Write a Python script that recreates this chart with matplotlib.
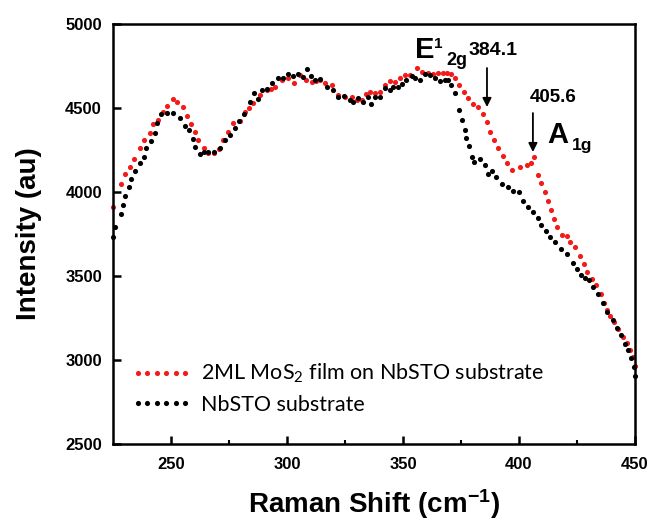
import matplotlib
matplotlib.use("Agg")
import matplotlib.pyplot as plt

# ---- data ----
red_x = [225.2, 228.3, 230.3, 232.2, 234.1, 236.5, 238.3, 240.8, 242.2, 244.4,
         246.4, 248.4, 250.8, 252.7, 255.2, 256.9, 258.5, 260.5, 261.6, 264.1,
         265.9, 268.6, 270.7, 272.5, 274.6, 276.8, 279.8, 281.9, 283.7, 285.5,
         288.3, 291.3, 293.1, 294.8, 297.7, 300.5, 303.1, 305.6, 308.2, 310.6,
         312.4, 314.2, 316.4, 319.3, 322.1, 325.0, 327.9, 330.0, 332.4, 334.2,
         335.9, 337.9, 340.1, 342.2, 344.4, 346.5, 348.6, 350.8, 353.0, 355.9,
         358.0, 360.9, 363.0, 365.2, 367.1, 369.1, 370.8, 372.3, 374.2, 376.2,
         378.0, 380.3, 382.4, 384.6, 386.3, 387.7, 389.4, 391.1, 392.9, 394.9,
         397.2, 400.4, 403.3, 405.1, 406.4, 408.3, 409.7, 411.1, 412.6, 413.6,
         415.1, 416.5, 418.4, 420.5, 422.0, 424.1, 426.3, 428.0, 429.4, 431.3,
         433.2, 435.2, 436.6, 437.9, 439.2, 441.0, 442.8, 444.7, 446.4, 447.8,
         449.2, 450.0]
red_y = [3910, 4048, 4107, 4151, 4195, 4260, 4310, 4353, 4403, 4429,
         4475, 4512, 4552, 4536, 4504, 4452, 4403, 4359, 4310, 4260,
         4234, 4234, 4255, 4310, 4360, 4413, 4425, 4478, 4500, 4528,
         4577, 4607, 4615, 4627, 4667, 4677, 4647, 4696, 4667, 4657,
         4660, 4667, 4647, 4637, 4577, 4567, 4567, 4548, 4550, 4582,
         4597, 4591, 4597, 4637, 4663, 4657, 4677, 4696, 4696, 4736,
         4716, 4710, 4702, 4710, 4706, 4706, 4700, 4677, 4637, 4597,
         4558, 4524, 4504, 4464, 4419, 4359, 4310, 4260, 4214, 4171,
         4131, 4151, 4161, 4171, 4207, 4101, 4052, 4002, 3948, 3893,
         3838, 3790, 3744, 3738, 3704, 3671, 3619, 3570, 3526, 3480,
         3447, 3393, 3341, 3300, 3262, 3228, 3183, 3139, 3099, 3060,
         3020, 2965]

blk_x = [225.2, 226.0, 228.3, 229.3, 230.3, 231.7, 232.9, 234.6, 236.5, 238.3,
         239.3, 241.2, 242.9, 244.1, 245.8, 248.4, 250.8, 253.7, 255.9, 257.8,
         259.5, 260.5, 262.3, 264.1, 265.9, 268.6, 271.0, 273.3, 275.4, 277.5,
         279.5, 281.5, 284.0, 285.8, 287.3, 289.1, 291.3, 293.4, 296.2, 298.4,
         300.5, 302.5, 304.9, 306.8, 308.7, 310.2, 312.0, 314.2, 317.1, 320.0,
         322.1, 324.5, 327.2, 328.6, 330.7, 332.7, 335.0, 336.4, 337.9, 340.1,
         342.2, 344.4, 345.8, 347.9, 349.4, 351.5, 353.7, 355.1, 357.3, 359.4,
         361.6, 363.7, 365.8, 368.1, 369.5, 370.9, 372.4, 374.2, 375.6, 376.6,
         377.3, 378.5, 379.6, 380.8, 383.0, 385.2, 386.5, 388.3, 390.3, 392.6,
         395.3, 397.5, 400.1, 401.8, 404.0, 406.1, 408.3, 409.7, 411.5, 413.3,
         415.4, 418.3, 420.5, 423.1, 424.8, 426.6, 428.4, 430.3, 431.8, 434.2,
         436.1, 438.1, 440.4, 442.4, 443.8, 445.7, 447.1, 448.1, 449.6, 450.0]
blk_y = [3734, 3794, 3869, 3923, 3976, 4028, 4076, 4127, 4175, 4210,
         4260, 4304, 4353, 4409, 4462, 4468, 4468, 4438, 4395, 4369,
         4315, 4270, 4226, 4238, 4240, 4240, 4262, 4310, 4339, 4379,
         4425, 4464, 4538, 4591, 4552, 4607, 4611, 4647, 4677, 4677,
         4702, 4690, 4702, 4687, 4732, 4690, 4667, 4671, 4623, 4607,
         4567, 4571, 4548, 4534, 4558, 4535, 4567, 4524, 4567, 4567,
         4617, 4607, 4623, 4623, 4643, 4667, 4690, 4677, 4667, 4702,
         4696, 4677, 4663, 4667, 4667, 4637, 4587, 4488, 4429, 4369,
         4320, 4274, 4210, 4180, 4195, 4161, 4110, 4127, 4090, 4048,
         4028, 4006, 4002, 3948, 3909, 3883, 3843, 3804, 3770, 3734,
         3704, 3662, 3631, 3579, 3540, 3506, 3486, 3476, 3436, 3393,
         3341, 3288, 3238, 3189, 3149, 3095, 3060, 3010, 2957, 2905]

x_ticks = [250, 300, 350, 400, 450]
y_ticks = [2500, 3000, 3500, 4000, 4500, 5000]
red_label = "2ML MoS$_2$ film on NbSTO substrate"
blk_label = "NbSTO substrate"

plt.rcParams['mathtext.default'] = 'regular'

fig = plt.figure(figsize=(6.51, 5.20), dpi=100)
ax = fig.add_axes([0.1736, 0.146, 0.8018, 0.8078])

ax.plot(red_x, red_y, linestyle='none', marker='o', markersize=3.7,
        color='#f51a1a', markeredgewidth=0, label=red_label, clip_on=False)
ax.plot(blk_x, blk_y, linestyle='none', marker='o', markersize=3.7,
        color='black', markeredgewidth=0, label=blk_label, clip_on=False)

ax.set_xlim(225, 450)
ax.set_ylim(2500, 5000)
ax.set_xticks(x_ticks)
ax.set_xticks([275, 325, 375, 425], minor=True)
ax.set_yticks(y_ticks)

for s in ax.spines.values():
    s.set_linewidth(1.8)

ax.tick_params(axis='both', which='major', direction='in', length=6, width=1.8,
               top=False, right=False)
ax.tick_params(axis='x', which='minor', direction='in', length=3, width=1.5,
               top=False)
ax.tick_params(axis='x', which='major', pad=9)
ax.tick_params(axis='y', which='major', pad=8)
for lab in ax.get_xticklabels() + ax.get_yticklabels():
    lab.set_fontfamily('Liberation Sans')
    lab.set_fontweight('bold')
    lab.set_fontsize(12)

ax.set_xlabel("Raman Shift (cm$^{-1}$)", fontfamily='Liberation Sans',
              fontweight='bold', fontsize=20, labelpad=11)
ax.set_ylabel("Intensity (au)", fontfamily='Liberation Sans',
              fontweight='bold', fontsize=20, labelpad=17)

leg = ax.legend(loc='upper left', bbox_to_anchor=(0.035, 0.195), frameon=False,
                numpoints=6, handlelength=2.8, handletextpad=0.45,
                labelspacing=0.42, borderpad=0, borderaxespad=0,
                prop={'family': 'Lato', 'size': 15.5})

# annotations
bold = dict(fontfamily='Liberation Sans', fontweight='bold', color='black')
ax.text(355.2, 4798, "E", fontsize=21, **bold)
ax.text(363.3, 4857, "1", fontsize=11, **bold)
ax.text(368.6, 4756, "2g", fontsize=13, **bold)
ax.text(378.4, 4815, "384.1", fontsize=14, **bold)
ax.text(404.7, 4536, "405.6", fontsize=13.5, **bold)
ax.text(412.1, 4292, "A", fontsize=21, **bold)
ax.text(422.6, 4250, "1g", fontsize=12.5, **bold)

arrow = dict(arrowstyle='-|>', color='black', lw=1.3, mutation_scale=13,
             shrinkA=0, shrinkB=0)
ax.annotate('', xy=(386.2, 4506), xytext=(386.2, 4738), arrowprops=arrow)
ax.annotate('', xy=(406.0, 4238), xytext=(406.0, 4470), arrowprops=arrow)

fig.savefig("out.png", dpi=100)
